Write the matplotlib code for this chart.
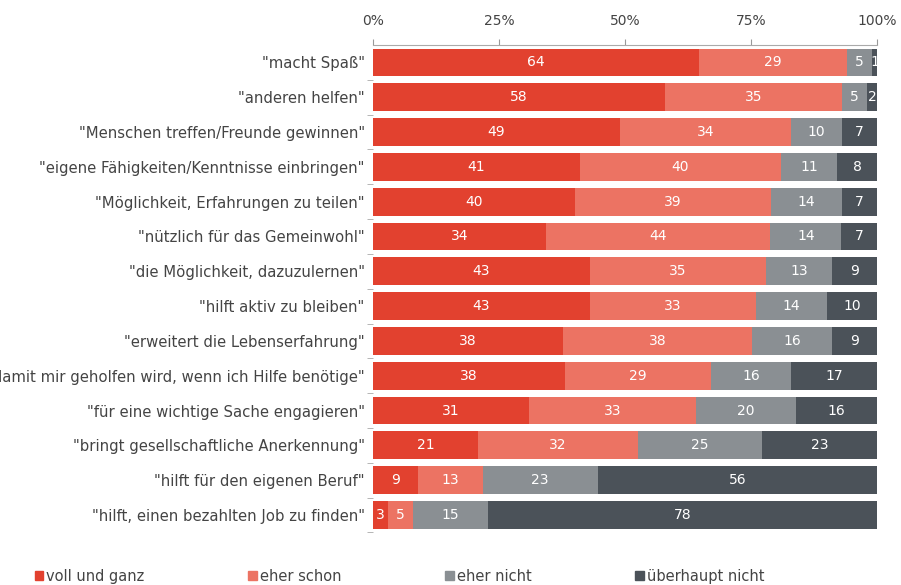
import numpy as np
import matplotlib
matplotlib.use('Agg')
import matplotlib.pyplot as plt
from matplotlib.patches import Patch

# answers per item, in percent
items = ['"macht Spaß"', '"anderen helfen"', '"Menschen treffen/Freunde gewinnen"',
         '"eigene Fähigkeiten/Kenntnisse einbringen"', '"Möglichkeit, Erfahrungen zu teilen"',
         '"nützlich für das Gemeinwohl"', '"die Möglichkeit, dazuzulernen"',
         '"hilft aktiv zu bleiben"', '"erweitert die Lebenserfahrung"',
         '"damit mir geholfen wird, wenn ich Hilfe benötige"',
         '"für eine wichtige Sache engagieren"', '"bringt gesellschaftliche Anerkennung"',
         '"hilft für den eigenen Beruf"', '"hilft, einen bezahlten Job zu finden"']
voll = [64, 58, 49, 41, 40, 34, 43, 43, 38, 38, 31, 21, 9, 3]
eher_schon = [29, 35, 34, 40, 39, 44, 35, 33, 38, 29, 33, 32, 13, 5]
eher_nicht = [5, 5, 10, 11, 14, 14, 13, 14, 16, 16, 20, 25, 23, 15]
ueberhaupt = [1, 2, 7, 8, 7, 7, 9, 10, 9, 17, 16, 23, 56, 78]
series_names = ['voll und ganz', 'eher schon', 'eher nicht', 'überhaupt nicht']
ticks = [0, 25, 50, 75, 100]

colors = ['#e2412f', '#ec7363', '#8a8f93', '#4b5259']
txt = '#444444'

fig = plt.figure(figsize=(9.01, 5.85), dpi=100)
ax = fig.add_axes([0.414, 0.090, 0.5595, 0.833])

data = np.array([voll, eher_schon, eher_nicht, ueberhaupt], dtype=float)
# 100% stacked: rounded answers are scaled so each bar fills the row
shares = data / data.sum(axis=0) * 100

y = np.arange(len(items))
left = np.zeros(len(items))
for vals, shr, col in zip(data, shares, colors):
    ax.barh(y, shr, left=left, height=0.8, color=col, edgecolor='none')
    for yi, l, s, v in zip(y, left, shr, vals):
        ax.text(l + s / 2, yi, str(int(v)), ha='center', va='center',
                color='white', fontsize=10)
    left += shr

ax.set_xlim(0, 100)
ax.set_ylim(len(items) - 0.5, -0.5)
ax.xaxis.tick_top()
ax.set_xticks(ticks)
ax.set_xticklabels(['%d%%' % t for t in ticks])
ax.set_yticks(y)
ax.set_yticklabels(items)
ax.tick_params(axis='x', colors='#999999', labelcolor=txt, labelsize=10,
               length=4, pad=8)
ax.tick_params(axis='y', length=0, labelcolor=txt, labelsize=10.7, pad=6)
# small ticks between bars on the left
ax.set_yticks(np.arange(len(items)) + 0.5, minor=True)
ax.tick_params(axis='y', which='minor', length=4, color='#aaaaaa')
for s in ['bottom', 'left', 'right']:
    ax.spines[s].set_visible(False)
ax.spines['top'].set_color('#aaaaaa')

handles = [Patch(color=c, label=n) for c, n in zip(colors, series_names)]
fig.legend(handles=handles, loc='lower left', bbox_to_anchor=(0.024, -0.02),
           ncol=4, frameon=False, fontsize=10.5, handlelength=0.6, handleheight=0.6,
           handletextpad=0.2, columnspacing=7.1, labelcolor=txt)

plt.savefig('out.png', dpi=100)
